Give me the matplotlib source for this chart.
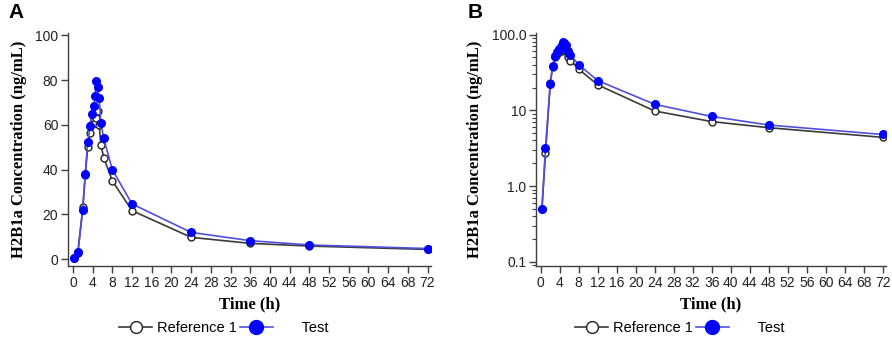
import numpy as np
import matplotlib.pyplot as plt
from matplotlib.ticker import FixedLocator, FixedFormatter
from matplotlib.lines import Line2D

# sampling times (h)
time_h = [0.25, 1, 2, 2.5, 3, 3.5, 3.85, 4.25, 4.5, 4.75, 5, 5.33, 5.67, 6.25, 8, 12, 24, 36, 48, 72]
# mean concentrations (ng/mL)
reference_1 = [0.5, 2.7, 23.2, 37.5, 50, 56.2, 60.4, 62.5, 61.0, 63.0, 66.3, 60.0, 51.2, 45.4, 35.0, 21.7, 9.8, 7.1, 5.9, 4.4]
test = [0.5, 3.2, 22.0, 38.0, 52.2, 59.5, 64.9, 68.4, 72.9, 79.7, 77.0, 72.1, 61.0, 54.0, 40.0, 24.7, 12.0, 8.3, 6.4, 4.8]

x_ticks = list(range(0, 73, 4))
lin_ticks = [0, 20, 40, 60, 80, 100]
log_ticks = [0.1, 1, 10, 100]
log_labels = ["0.1", "1.0", "10", "100.0"]

plt.rcParams['font.family'] = ['Liberation Sans', 'DejaVu Sans']
W, H = 892, 343
fig = plt.figure(figsize=(W/100, H/100), dpi=100)

def px_axes(l, t, r, b):
    return fig.add_axes([l/W, 1-b/H, (r-l)/W, (b-t)/H])

axA = px_axes(68, 33, 431, 266)
axB = px_axes(536, 33, 886, 266)

for ax in (axA, axB):
    ax.plot(time_h, reference_1, color='#3a3a3a', lw=1.2, marker='o', ms=5,
            mfc='white', mec='#202020', mew=1.0, zorder=2)
    ax.plot(time_h, test, color='#5050dd', lw=1.2, marker='o', ms=5.5,
            mfc='#0000ff', mec='#0000ff', zorder=3)
    for s in ('top', 'right'):
        ax.spines[s].set_visible(False)
    for s in ('left', 'bottom'):
        ax.spines[s].set_color('#404040')
        ax.spines[s].set_linewidth(1.0)
    ax.set_xlim(-1, 72.7)
    ax.set_xticks(x_ticks)
    ax.tick_params(axis='both', direction='out', length=5, width=1, color='#404040',
                   labelsize=10, pad=2, labelcolor='#222222')
    ax.set_xlabel("Time (h)", family='Liberation Serif', weight='bold', fontsize=12, labelpad=5)
    ax.set_ylabel("H2B1a Concentration (ng/mL)", family='Liberation Serif', weight='bold',
                  fontsize=12, labelpad=6)

axA.set_ylim(-3, 101)
axA.set_yticks(lin_ticks)

axB.set_yscale('log')
axB.set_ylim(0.088, 105)
axB.yaxis.set_major_locator(FixedLocator(log_ticks))
axB.yaxis.set_major_formatter(FixedFormatter(log_labels))
axB.tick_params(axis='y', which='minor', direction='out', length=3, width=0.8, color='#404040')

fig.text(8/W, 1-18/H, "A", fontsize=15, weight='bold')
fig.text(468/W, 1-18/H, "B", fontsize=15, weight='bold')

handles = [
    Line2D([], [], color='#3a3a3a', lw=1.2, marker='o', ms=8.5, mfc='white', mec='#202020'),
    Line2D([], [], color='#5050dd', lw=1.2, marker='o', ms=10, mfc='#0000ff', mec='#0000ff'),
]
labels = ["Reference 1", "      Test"]
for x0 in (113, 569):
    fig.legend(handles, labels, loc='center left', bbox_to_anchor=(x0/W, 1-328/H),
               ncol=2, frameon=False, fontsize=10.5, handlelength=2.3,
               handletextpad=0.3, columnspacing=0.2, borderaxespad=0)

fig.savefig("out.png", dpi=100)
